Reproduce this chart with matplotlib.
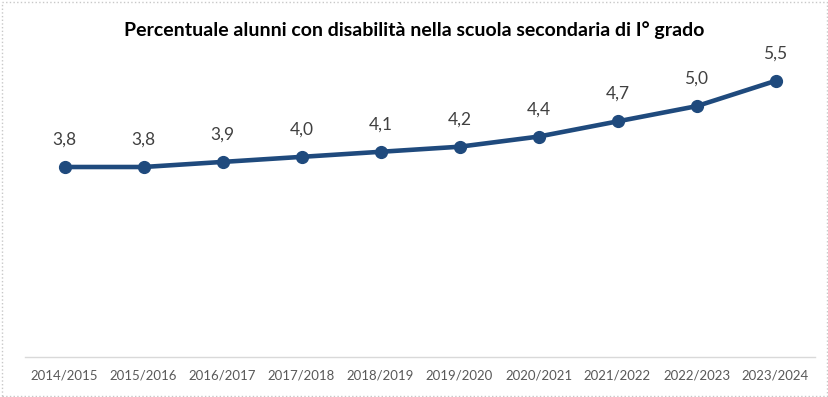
import matplotlib.pyplot as plt
from matplotlib.patches import Rectangle

plt.rcParams['font.family'] = ['Lato', 'DejaVu Sans']

anni = ['2014/2015', '2015/2016', '2016/2017', '2017/2018', '2018/2019',
        '2019/2020', '2020/2021', '2021/2022', '2022/2023', '2023/2024']
percentuale = [3.8, 3.8, 3.9, 4.0, 4.1, 4.2, 4.4, 4.7, 5.0, 5.5]

blu = '#1F4A7D'

fig = plt.figure(figsize=(8.29, 3.97), dpi=100)
ax = fig.add_axes([25 / 829, 40 / 397, 790 / 829, 304 / 397])

x = range(len(anni))
ax.plot(x, percentuale, color=blu, lw=3.3, marker='o', ms=8.5, zorder=3)

for xi, v in zip(x, percentuale):
    ax.annotate(f'{v:.1f}'.replace('.', ','), (xi, v), xytext=(0, 14),
                textcoords='offset points', ha='center', va='bottom',
                fontsize=12.5, color='#404040')

ax.set_xlim(-0.5, len(anni) - 0.5)
ax.set_ylim(0.05, 6.05)
ax.set_xticks(list(x))
ax.set_xticklabels(anni, fontsize=9.5, color='#595959')
ax.tick_params(axis='x', length=0, pad=9)
ax.set_yticks([])
for s in ['top', 'left', 'right']:
    ax.spines[s].set_visible(False)
ax.spines['bottom'].set_color('#D9D9D9')
ax.spines['bottom'].set_linewidth(1)

fig.text(0.5, 0.925, 'Percentuale alunni con disabilità nella scuola secondaria di I° grado',
         ha='center', va='center', fontsize=14, fontweight='bold', color='black')

fig.patches.append(Rectangle((0.002, 0.003), 0.995, 0.993, transform=fig.transFigure,
                             fill=False, edgecolor='#C8C8C8', lw=1, ls=':'))

fig.savefig('out.png', dpi=100)
